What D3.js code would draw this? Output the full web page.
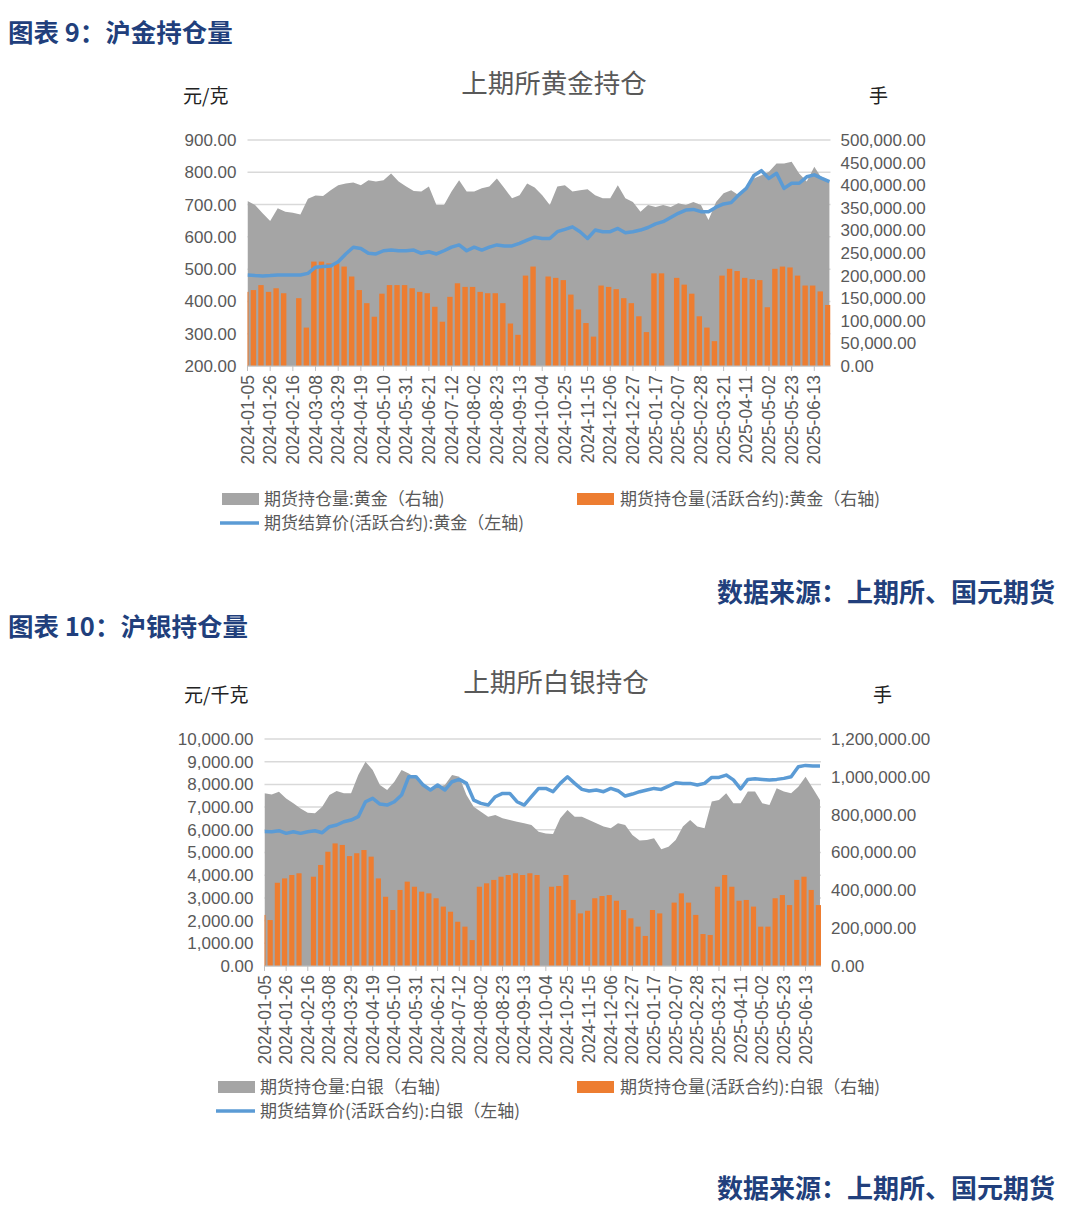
<!DOCTYPE html>
<html>
<head>
<meta charset="utf-8">
<script src="https://cdn.jsdelivr.net/npm/d3@7/dist/d3.min.js"></script>
<style>
body{margin:0;background:#fff;}
svg text{font-family:"Liberation Sans",Arial,"Noto Sans CJK SC",sans-serif;}
.cjk{font-family:"Noto Sans CJK SC",sans-serif !important;}
</style>
</head>
<body>
<div id="page"></div>
<script>
// weekly readings (Friday of each week, 2024-01-05 .. 2025-06-27)
var weekStart="2024-01-05", weekStop="2025-06-28";
var tickDates=["2024-01-05","2024-01-26","2024-02-16","2024-03-08","2024-03-29","2024-04-19","2024-05-10","2024-05-31","2024-06-21","2024-07-12","2024-08-02","2024-08-23","2024-09-13","2024-10-04","2024-10-25","2024-11-15","2024-12-06","2024-12-27","2025-01-17","2025-02-07","2025-02-28","2025-03-21","2025-04-11","2025-05-02","2025-05-23","2025-06-13"];

// gold, thousand lots / yuan per gram
var goldTotal=[365,356,338,321,349,341,339,335,370,377,376,389,400,404,406,400,411,408,411,426,408,397,387,386,397,356,356,386,411,386,386,393,397,415,393,371,378,404,395,378,356,397,400,386,389,391,378,371,371,400,371,363,341,356,352,356,352,360,356,363,356,323,363,382,389,378,397,415,422,430,448,448,452,426,408,441,415,411];
var goldActive=[164,168,179,164,172,161,null,150,85,231,231,227,227,220,198,168,139,109,160,179,179,179,172,164,161,131,98,153,183,175,175,164,161,161,139,94,69,200,220,null,198,195,190,158,125,95,65,178,175,170,150,139,110,75,205,205,null,195,180,160,110,85,55,200,215,210,195,192,190,130,215,220,218,200,178,178,165,135];
var goldPrice=[482,480,479,480,482,482,482,482,487,506,508,510,523,547,568,564,549,547,557,559,557,557,559,549,554,547,557,568,575,557,568,559,568,575,572,572,580,590,599,595,595,616,623,631,616,595,621,616,616,626,613,616,621,629,640,647,660,673,683,685,678,678,692,702,706,730,750,790,805,781,797,750,766,766,786,792,781,771];

// silver, thousand lots / yuan per kg
var silverTotal=[913,907,921,886,860,833,810,807,842,904,925,913,913,1010,1080,1036,957,930,974,1036,1018,992,957,930,948,957,1010,1001,904,842,816,789,798,781,772,763,754,745,710,701,698,781,825,789,789,772,754,737,728,754,745,692,663,666,675,617,631,666,737,772,737,728,869,877,913,860,860,922,922,860,851,939,922,913,948,1001,939,877];
var silverActive=[270,243,440,463,481,490,null,472,534,604,648,640,581,596,613,578,463,366,296,402,446,419,393,384,358,314,287,234,208,137,419,437,455,472,481,490,481,490,481,null,419,423,481,349,278,292,358,370,375,345,296,252,208,159,296,278,null,335,384,335,270,169,164,419,481,419,345,349,314,208,208,358,375,322,455,472,402,322];
var silverPrice=[5920,5916,5960,5843,5916,5843,5916,5960,5872,6136,6210,6356,6430,6577,7237,7384,7134,7090,7237,7531,8338,8338,7971,7751,7971,7751,8118,8221,8044,7310,7164,7090,7457,7604,7604,7237,7090,7457,7824,7824,7678,8044,8338,8044,7780,7707,7751,7678,7824,7722,7487,7575,7678,7751,7824,7780,7927,8074,8044,8044,7971,8044,8309,8309,8412,8200,7800,8221,8250,8221,8192,8221,8265,8338,8779,8837,8808,8808];

var navy="#213f7c", txt="#595959", grayFill="#a5a5a5", orange="#ed7d31", blue="#5b9bd5";
var parse=d3.timeParse("%Y-%m-%d");
var fridays=d3.timeFriday.range(parse(weekStart),parse(weekStop));

var svg=d3.select("#page").append("svg").attr("width",1066).attr("height",1212);
svg.append("rect").attr("width",1066).attr("height",1212).attr("fill","#fff");

function header(y,label){
	svg.append("text").attr("class","cjk").attr("x",8).attr("y",y)
		.attr("fill",navy).attr("font-size",25.5).attr("font-weight","bold").text(label);
}
function source(y){
	svg.append("text").attr("class","cjk").attr("x",1055).attr("y",y).attr("text-anchor","end")
		.attr("fill",navy).attr("font-size",26).attr("font-weight","bold").text("数据来源：上期所、国元期货");
}

function drawChart(c){
	var x=d3.scaleTime().domain([parse(weekStart),parse(weekStop)]).range([c.left,c.right]);
	var yL=d3.scaleLinear().domain(c.leftDom).range([c.bottom,c.top]);
	var yR=d3.scaleLinear().domain(c.rightDom).range([c.bottom,c.top]);
	var g=svg.append("g");

	g.append("text").attr("class","cjk").attr("x",c.titleX).attr("y",c.top-47)
		.attr("text-anchor","middle").attr("fill",txt).attr("font-size",26.5).text(c.title);
	g.append("text").attr("class","cjk").attr("x",c.unitLX).attr("y",c.top-37)
		.attr("fill","#222").attr("font-size",19).text(c.unitL);
	g.append("text").attr("class","cjk").attr("x",c.unitRX).attr("y",c.top-37)
		.attr("fill","#222").attr("font-size",19).text("手");

	var lt=d3.range(c.leftDom[0],c.leftDom[1]+1,c.leftStep);
	g.append("g").selectAll("line").data(lt).enter().append("line")
		.attr("x1",c.left).attr("x2",c.right)
		.attr("y1",function(d){return yL(d);}).attr("y2",function(d){return yL(d);})
		.attr("stroke","#d9d9d9").attr("stroke-width",1.5);
	g.append("g").selectAll("text").data(lt).enter().append("text")
		.attr("x",c.left-11).attr("y",function(d){return yL(d);}).attr("dy","0.35em")
		.attr("text-anchor","end").attr("fill",txt).attr("font-size",17)
		.text(function(d){return d3.format(c.leftFmt)(d);});
	var rt=d3.range(c.rightDom[0],c.rightDom[1]+1,c.rightStep);
	g.append("g").selectAll("text").data(rt).enter().append("text")
		.attr("x",c.right+10).attr("y",function(d){return yR(d);}).attr("dy","0.35em")
		.attr("fill",txt).attr("font-size",17)
		.text(function(d){return d3.format(",.2f")(d);});

	var clipId="clip"+c.id;
	svg.append("clipPath").attr("id",clipId).append("rect")
		.attr("x",c.left).attr("y",c.top-20).attr("width",c.right-c.left).attr("height",c.bottom-c.top+20);
	var plot=g.append("g").attr("clip-path","url(#"+clipId+")");

	var area=d3.area().x(function(d,i){return x(fridays[i]);})
		.y0(c.bottom).y1(function(d){return yR(d*1000);});
	plot.append("path").datum(c.total).attr("d",area).attr("fill",grayFill);

	// one bar per trading week, Monday to Friday
	var bars=c.active.map(function(v,i){return {day:fridays[i],v:v};})
		.filter(function(d){return d.v!=null;});
	plot.append("g").selectAll("rect").data(bars).enter().append("rect")
		.attr("x",function(d){return x(d3.timeDay.offset(d.day,-4));})
		.attr("y",function(d){return yR(d.v*1000);})
		.attr("width",function(d){return x(d3.timeDay.offset(d.day,1))-x(d3.timeDay.offset(d.day,-4));})
		.attr("height",function(d){return c.bottom-yR(d.v*1000);})
		.attr("fill",orange);

	var line=d3.line().x(function(d,i){return x(fridays[i]);}).y(function(d){return yL(d);});
	plot.append("path").datum(c.price).attr("d",line).attr("fill","none")
		.attr("stroke",blue).attr("stroke-width",3.5).attr("stroke-linejoin","round");

	g.append("line").attr("x1",c.left).attr("x2",c.right).attr("y1",c.bottom).attr("y2",c.bottom)
		.attr("stroke","#bfbfbf").attr("stroke-width",1.2);
	var td=tickDates.map(parse);
	g.append("g").selectAll("line").data(td).enter().append("line")
		.attr("x1",function(d){return x(d);}).attr("x2",function(d){return x(d);})
		.attr("y1",c.bottom).attr("y2",c.bottom+5).attr("stroke","#bfbfbf");
	g.append("g").selectAll("text").data(tickDates).enter().append("text")
		.attr("transform",function(d){return "translate("+(x(parse(d))+6)+","+(c.bottom+9)+") rotate(-90)";})
		.attr("text-anchor","end").attr("fill",txt).attr("font-size",17.5).text(function(d){return d;});

	// legend
	var ly=c.legendY;
	g.append("rect").attr("x",c.lgX).attr("y",ly-6).attr("width",37).attr("height",12).attr("fill",grayFill);
	g.append("text").attr("class","cjk").attr("x",c.lgX+42).attr("y",ly).attr("dy","0.35em")
		.attr("fill",txt).attr("font-size",17).text(c.leg[0]);
	g.append("rect").attr("x",577).attr("y",ly-6).attr("width",37).attr("height",12).attr("fill",orange);
	g.append("text").attr("class","cjk").attr("x",620).attr("y",ly).attr("dy","0.35em")
		.attr("fill",txt).attr("font-size",17).text(c.leg[1]);
	g.append("line").attr("x1",c.lgX-2).attr("x2",c.lgX+37).attr("y1",ly+24).attr("y2",ly+24)
		.attr("stroke",blue).attr("stroke-width",3.5);
	g.append("text").attr("class","cjk").attr("x",c.lgX+42).attr("y",ly+24).attr("dy","0.35em")
		.attr("fill",txt).attr("font-size",17).text(c.leg[2]);
}

header(42,"图表 9：沪金持仓量");
drawChart({id:1,title:"上期所黄金持仓",titleX:554,unitL:"元/克",unitLX:183,unitRX:869,
	left:247.5,right:830.5,top:140,bottom:366,
	leftDom:[200,900],leftStep:100,leftFmt:".2f",rightDom:[0,500000],rightStep:50000,
	total:goldTotal,active:goldActive,price:goldPrice,
	legendY:499,lgX:222,
	leg:["期货持仓量:黄金（右轴)","期货持仓量(活跃合约):黄金（右轴)","期货结算价(活跃合约):黄金（左轴)"]});
source(602);

header(636,"图表 10：沪银持仓量");
drawChart({id:2,title:"上期所白银持仓",titleX:556,unitL:"元/千克",unitLX:184,unitRX:873,
	left:264.5,right:821,top:739,bottom:966,
	leftDom:[0,10000],leftStep:1000,leftFmt:",.2f",rightDom:[0,1200000],rightStep:200000,
	total:silverTotal,active:silverActive,price:silverPrice,
	legendY:1087,lgX:218,
	leg:["期货持仓量:白银（右轴)","期货持仓量(活跃合约):白银（右轴)","期货结算价(活跃合约):白银（左轴)"]});
source(1198);
</script>
</body>
</html>
